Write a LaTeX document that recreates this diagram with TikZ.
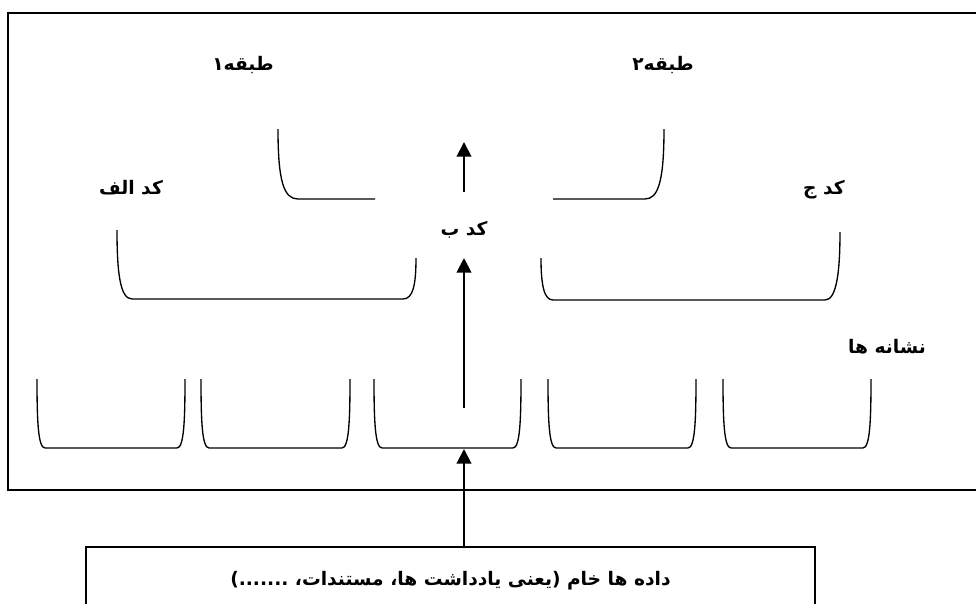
\documentclass[tikz,border=0pt]{standalone}
\usepackage{fontspec}
\usetikzlibrary{arrows.meta}
\newfontfamily\fa[Script=Arabic]{DejaVu Sans}
\TeXXeTstate=1
\begin{document}
\begin{tikzpicture}[x=0.75pt,y=-0.75pt,
  frame/.style={line width=1.6pt},
  brk/.style={line width=1pt},
  lbl/.style={font=\fa\bfseries\fontsize{14}{16}\selectfont, inner sep=0pt},
  arr/.style={line width=1.5pt,-{Triangle[length=11pt,width=11pt]}}]
\useasboundingbox (0,0) rectangle (976,604);
% outer frame (right side lies outside the picture)
\draw[frame] (976,13) -- (8,13) -- (8,490) -- (976,490);
% raw data box (cut off at the bottom)
\begin{scope}
\clip (0,0) rectangle (976,604);
\node[draw, line width=0.8pt, minimum width=546.75pt, minimum height=51pt, lbl] (raw) at (450.5,581)
  {\beginR داده ها خام (یعنی یادداشت ها، مستندات، .......)\endR};
\end{scope}
% labels
\node[lbl] (t1) at (243,65) {\beginR طبقه۱\endR};
\node[lbl] (t2) at (663,65) {\beginR طبقه۲\endR};
\node[lbl] (ka) at (131,188) {\beginR کد الف\endR};
\node[lbl] (kb) at (464,230) {\beginR کد ب\endR};
\node[lbl] (kj) at (824,190) {\beginR کد ج\endR};
\node[lbl] (nh) at (887,347) {\beginR نشانه ها\endR};
% bottom row of brackets
\foreach \a/\b in {37/185,201/350,374/521,548/696,723/871}{
  \draw[brk] (\a,379) .. controls (\a,420) and ({\a+1},448) .. ({\a+8},448)
    -- ({\b-8},448) .. controls ({\b-1},448) and (\b,420) .. (\b,379);
}
% middle brackets
\draw[brk] (117,230) .. controls (117,272) and (120,299) .. (132,299) -- (403,299)
  .. controls (413,299) and (416,285) .. (416,258);
\draw[brk] (541,258) .. controls (541,285) and (544,300) .. (553,300) -- (825,300)
  .. controls (836,300) and (840,275) .. (840,232);
% top brackets
\draw[brk] (278,129) .. controls (278,182) and (284,199) .. (298,199) -- (375,199);
\draw[brk] (553,199) -- (645,199) .. controls (658,199) and (664,182) .. (664,129);
% arrows
\coordinate (b3) at (464,449);
\coordinate (m1) at (464,408);
\coordinate (m2) at (464,258);
\coordinate (u1) at (464,192);
\coordinate (u2) at (464,142);
\draw[arr] (raw.north -| b3) -- (b3);
\draw[arr] (m1) -- (m2);
\draw[arr] (u1) -- (u2);
\end{tikzpicture}
\end{document}
